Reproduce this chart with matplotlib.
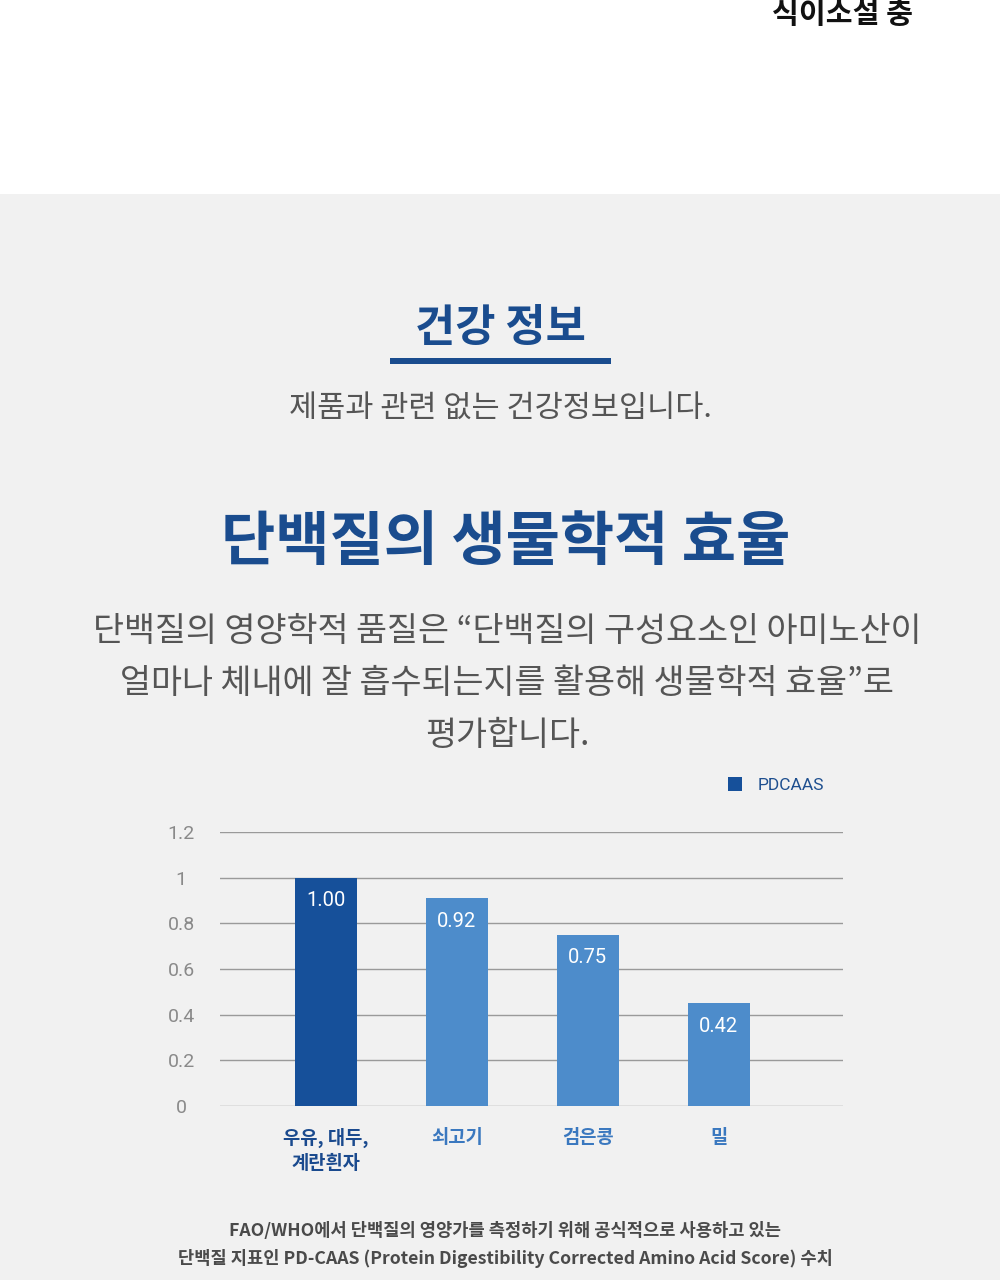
import matplotlib
matplotlib.use('Agg')
import matplotlib.pyplot as plt
from matplotlib.patches import Rectangle, Patch

plt.rcParams['font.family'] = ['Noto Sans CJK KR', 'DejaVu Sans']

# data
categories = ['우유, 대두,\n계란흰자', '쇠고기', '검은콩', '밀']
pdcaas = [1.00, 0.91, 0.75, 0.45]     # bar heights as drawn in the picture
value_labels = ['1.00', '0.92', '0.75', '0.42']
yticks = [0, 0.2, 0.4, 0.6, 0.8, 1.0, 1.2]
ytick_labels = ['0', '0.2', '0.4', '0.6', '0.8', '1', '1.2']
series_name = 'PDCAAS'

navy = '#16509a'
light = '#4d8ccb'
title_blue = '#1a4c8e'
gray_txt = '#555555'

W, H = 1000, 1280
fig = plt.figure(figsize=(W / 100, H / 100), dpi=100, facecolor='#f1f1f1')

def fx(x):
    return x / W

def fy(y):
    return 1 - y / H

# white top band
fig.patches.append(Rectangle((0, fy(194)), 1, 1 - fy(194), transform=fig.transFigure,
                             facecolor='white', edgecolor='none', zorder=0))

fig.text(fx(842), fy(23), '식이소설 충', ha='center', va='baseline', fontsize=21,
         fontweight='bold', color='#111111')

fig.text(fx(500), fy(328), '건강 정보', ha='center', va='center', fontsize=31.5,
         fontweight='black', color=title_blue)
fig.patches.append(Rectangle((fx(390), fy(364)), fx(611) - fx(390), fy(358) - fy(364),
                             transform=fig.transFigure, facecolor=title_blue,
                             edgecolor='none'))
fig.text(fx(500), fy(408), '제품과 관련 없는 건강정보입니다.', ha='center', va='center',
         fontsize=22, color=gray_txt)

fig.text(fx(506), fy(543), '단백질의 생물학적 효율', ha='center', va='center', fontsize=42.5,
         fontweight='black', color=title_blue)

para = ['단백질의 영양학적 품질은 “단백질의 구성요소인 아미노산이',
        '얼마나 체내에 잘 흡수되는지를 활용해 생물학적 효율”로',
        '평가합니다.']
for i, line in enumerate(para):
    fig.text(fx(507), fy(632 + 51.5 * i), line, ha='center', va='center', fontsize=24.3,
             color=gray_txt)

# chart
ax = fig.add_axes([fx(220), fy(1106), fx(843) - fx(220), fy(832) - fy(1106)])
ax.set_facecolor('none')
x = list(range(len(categories)))
colors = [navy] + [light] * (len(categories) - 1)
bars = ax.bar(x, pdcaas, width=0.475, color=colors, zorder=3)
ax.set_ylim(0, 1.2)
ax.set_xlim(-0.81, 3.95)
ax.set_yticks(yticks)
ax.set_yticklabels(ytick_labels, fontsize=14, color='#8a8a8a', family='Roboto')
for lab in ax.get_yticklabels():
    lab.set_horizontalalignment('center')
ax.tick_params(axis='y', length=0, pad=28)
ax.yaxis.grid(True, color='#9a9a9a', linewidth=1, zorder=0)
for s in ax.spines.values():
    s.set_visible(False)
ax.set_xticks(x)
ax.set_xticklabels(categories, fontsize=13.5, fontweight='bold', linespacing=1.35)
ax.tick_params(axis='x', length=0, pad=16)
for i, lab in enumerate(ax.get_xticklabels()):
    lab.set_color('#1a4a8e' if i == 0 else '#3a78bf')
    lab.set_verticalalignment('top')

for b, t in zip(bars, value_labels):
    ax.text(b.get_x() + b.get_width() / 2, b.get_height() - 0.1, t, ha='center',
            va='center', fontsize=14.5, color='white', family='Roboto', zorder=4)

leg = ax.legend(handles=[Patch(facecolor=navy, label=series_name)], loc='center left',
                bbox_to_anchor=(fx(712), fy(785)), bbox_transform=fig.transFigure,
                frameon=False, prop={'family': 'Roboto', 'size': 12.5},
                handlelength=0.85, handleheight=0.85, handletextpad=0.9)
for t in leg.get_texts():
    t.set_color('#1e4f8f')

foot = ['FAO/WHO에서 단백질의 영양가를 측정하기 위해 공식적으로 사용하고 있는',
        '단백질 지표인 PD-CAAS (Protein Digestibility Corrected Amino Acid Score) 수치']
for i, line in enumerate(foot):
    fig.text(fx(505), fy(1231 + 27 * i), line, ha='center', va='center', fontsize=12.7,
             fontweight='bold', color='#4a4a4a')

fig.savefig('out.png', dpi=100, facecolor=fig.get_facecolor())
